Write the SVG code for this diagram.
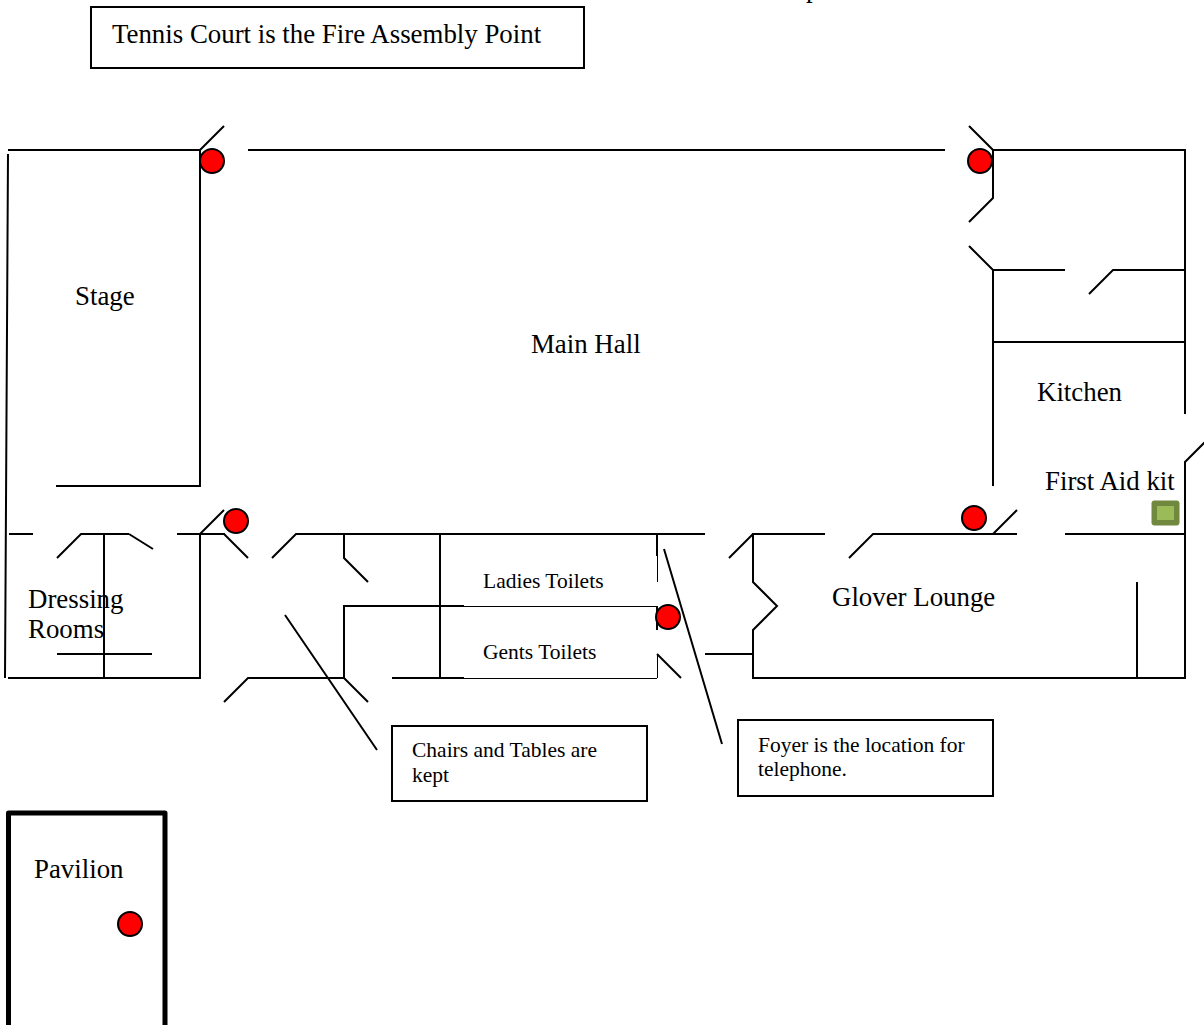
<svg xmlns="http://www.w3.org/2000/svg" width="1204" height="1025" viewBox="0 0 1204 1025">
<style>
text{font-family:"Liberation Serif","Times New Roman",serif;fill:#000}
.l{font-size:26.85px}.s{font-size:21.5px}
.w{fill:none;stroke:#000;stroke-width:2;stroke-linecap:butt;stroke-linejoin:miter}
.t{fill:none;stroke:#000;stroke-width:1}
.b{fill:#fff;stroke:#000;stroke-width:2}
.alarm{fill:#f00;stroke:#000;stroke-width:2}
</style>
<rect width="1204" height="1025" fill="#fff"/>
<g id="connectors">
<path class="w" d="M8 150H200V486H56M200 150L224 126M248 150H945M8 154L5 678"/>
<path class="w" d="M969 126L993 150V198L969 222M993 150H1185V414M969 246L993 270H1065M1089 294L1113 270H1185M993 270V486M993 342H1185"/>
<path class="w" d="M1209 438L1185 462V678H753V654H705M753 654V630L777 606L753 582V534H825M729 558L753 534M849 558L873 534H1017M993 534L1017 510M1065 534H1185M1137 582V678"/>
<path class="w" d="M9 534H33M57 558L81 534H129M129 534L153 549M177 534H225M200 534V678H8M200 534L224 510M224 534L248 558M104 534V678M57 654H152"/>
<path class="w" d="M272 558L296 534H705M344 534V558L368 582M440 534V678M464 606H344V678M392 678H464M224 702L248 678H344L368 702M657 534V556M657 606V630"/>
<path class="t" d="M464 606.500H657M464 678.500H657M657.500 556V582M657.500 654V678"/>
<path class="w" d="M657 654L681 678"/>
<path class="w" d="M285 615L377 750M664 549L722 744"/>
</g>
<g id="fire-point"><rect class="b" x="91" y="7" width="493" height="61"/><text class="l" x="112" y="43">Tennis Court is the Fire Assembly Point</text></g>
<g id="top-title"><text class="l" x="806" y="-3">p</text></g>
<g id="stage"><text class="l" x="75" y="305">Stage</text></g>
<g id="main-hall"><text class="l" x="531" y="353">Main Hall</text></g>
<g id="kitchen"><text class="l" x="1037" y="401">Kitchen</text></g>
<g id="first-aid"><text class="l" x="1045" y="490">First Aid kit</text>
<rect x="1152" y="501" width="27" height="24" rx="2" fill="#71893f" stroke="#71893f"/><rect x="1157" y="506" width="17" height="14" fill="#9bbb59"/></g>
<g id="glover-lounge"><text class="l" x="832" y="606">Glover Lounge</text></g>
<g id="dressing-rooms"><text class="l" x="28" y="608">Dressing</text><text class="l" x="28" y="638">Rooms</text></g>
<g id="ladies"><text class="s" x="483" y="588">Ladies Toilets</text></g>
<g id="gents"><text class="s" x="483" y="659">Gents Toilets</text></g>
<g id="chairs-note"><rect class="b" x="392" y="726" width="255" height="75"/><text class="s" x="412" y="757">Chairs and Tables are</text><text class="s" x="412" y="782">kept</text></g>
<g id="foyer-note"><rect class="b" x="738" y="720" width="255" height="76"/><text class="s" x="758" y="752">Foyer is the location for</text><text class="s" x="758" y="776">telephone.</text></g>
<g id="pavilion"><path fill="none" stroke="#000" stroke-width="5" stroke-linejoin="round" d="M8.500 1030V813H165V1030"/><text class="l" x="34" y="878">Pavilion</text></g>
<g id="alarms">
<circle class="alarm" cx="212" cy="161" r="12"/><circle class="alarm" cx="980" cy="161" r="12"/><circle class="alarm" cx="236" cy="521" r="12"/><circle class="alarm" cx="974" cy="518" r="12"/><circle class="alarm" cx="668" cy="617" r="12"/><circle class="alarm" cx="130" cy="924" r="12"/>
</g>
</svg>
